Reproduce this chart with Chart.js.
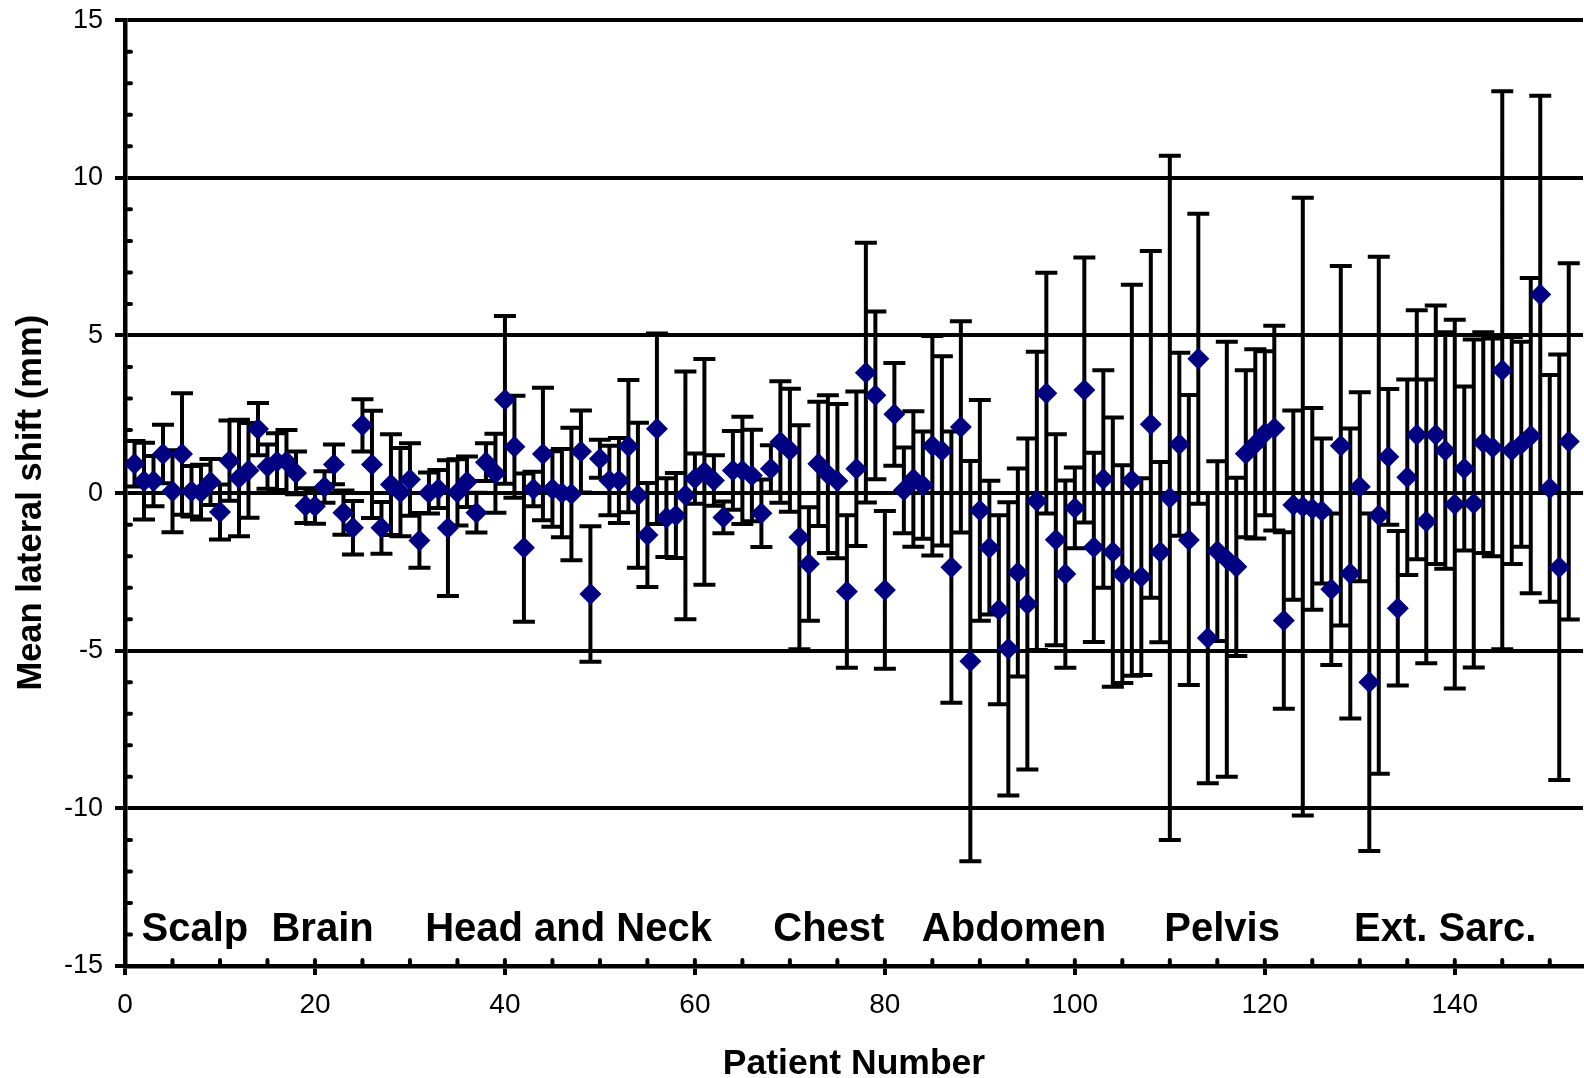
<!DOCTYPE html>
<html><head><meta charset="utf-8">
<script src="https://cdn.jsdelivr.net/npm/chart.js@4.4.1/dist/chart.umd.min.js"></script>
<style>html,body{margin:0;padding:0;background:#fff;overflow:hidden;width:1584px;height:1078px;}canvas{display:block;margin-top:-8px;}</style>
</head><body>
<canvas id="c" width="1594" height="1086"></canvas>
<script>
const patientNumbers = [
  1,2,3,4,5,6,7,8,9,10,11,12,13,14,15,16,17,18,19,20,
  21,22,23,24,25,26,27,28,29,30,31,32,33,34,35,36,37,38,39,40,
  41,42,43,44,45,46,47,48,49,50,51,52,53,54,55,56,57,58,59,60,
  61,62,63,64,65,66,67,68,69,70,71,72,73,74,75,76,77,78,79,80,
  81,82,83,84,85,86,87,88,89,90,91,92,93,94,95,96,97,98,99,100,
  101,102,103,104,105,106,107,108,109,110,111,112,113,114,115,116,117,118,119,120,
  121,122,123,124,125,126,127,128,129,130,131,132,133,134,135,136,137,138,139,140,
  141,142,143,144,145,146,147,148,149,150,151,152];
const meanShift = [
  0.93,0.38,0.38,1.24,0.06,1.24,0.06,0.03,0.35,-0.6,1.03,0.48,0.72,2.03,0.84,1.0,1.0,0.64,-0.4,-0.42,
  0.19,0.91,-0.62,-1.1,2.15,0.91,-1.1,0.27,0.03,0.43,-1.5,0.0,0.13,-1.11,0.02,0.36,-0.62,0.98,0.63,2.96,
  1.47,-1.73,0.13,1.24,0.13,0.0,-0.03,1.32,-3.2,1.09,0.4,0.4,1.49,-0.07,-1.33,2.04,-0.78,-0.71,-0.07,0.46,
  0.67,0.4,-0.77,0.72,0.72,0.56,-0.64,0.77,1.62,1.36,-1.4,-2.25,0.93,0.6,0.38,-3.12,0.77,3.82,3.1,-3.07,
  2.5,0.09,0.45,0.25,1.5,1.34,-2.35,2.1,-5.33,-0.55,-1.73,-3.7,-4.94,-2.52,-3.52,-0.25,3.17,-1.48,-2.57,-0.47,
  3.27,-1.72,0.45,-1.87,-2.57,0.41,-2.65,2.18,-1.87,-0.15,1.55,-1.49,4.26,-4.6,-1.84,-2.1,-2.34,1.25,1.56,1.9,
  2.06,-4.04,-0.38,-0.43,-0.5,-0.57,-3.05,1.5,-2.55,0.2,-6.0,-0.7,1.15,-3.65,0.5,1.85,-0.9,1.85,1.35,-0.35,
  0.78,-0.33,1.6,1.45,3.9,1.35,1.55,1.82,6.3,0.15,-2.35,1.64];
const shiftSD = [
  0.72,1.22,0.8,0.93,1.3,1.93,0.8,0.87,0.73,0.87,1.27,1.85,1.5,0.83,0.7,0.9,1.0,0.68,0.55,0.55,
  0.5,0.63,0.7,0.85,0.83,1.7,0.82,1.6,1.4,1.15,0.87,0.65,0.6,2.15,1.05,0.8,0.63,0.6,1.25,2.66,
  1.62,2.35,0.55,2.1,1.2,1.4,2.1,1.3,2.15,0.6,1.1,1.35,2.1,2.3,1.65,3.02,1.25,1.35,3.93,0.8,
  3.58,0.8,0.5,1.25,1.7,1.45,1.07,0.75,1.93,1.95,3.55,1.8,1.97,2.5,2.45,2.42,2.45,4.12,2.66,2.5,
  1.63,1.36,2.15,1.7,3.48,3.0,4.3,3.35,6.35,3.5,2.12,3.0,4.65,3.3,5.25,4.73,3.82,3.35,2.97,1.28,
  4.2,3.0,3.45,4.27,3.45,6.2,3.12,5.5,2.86,10.85,2.9,4.6,4.6,4.6,2.85,6.9,2.83,2.65,3.0,2.6,
  3.25,2.8,3.0,9.8,3.2,2.3,2.4,5.7,4.6,3.0,5.35,8.2,2.15,2.45,3.1,3.95,4.5,4.1,3.75,5.85,
  2.6,5.2,3.5,3.45,8.85,3.6,3.25,5.0,6.3,3.6,6.75,5.65];
const xTickValues = [0,20,40,60,80,100,120,140];
const yTickValues = [-15,-10,-5,0,5,10,15];
const xMinorTickValues = [5,10,15,25,30,35,45,50,55,65,70,75,85,90,95,105,110,115,125,130,135,145,150];
const yMinorTickValues = [-14,-13,-12,-11,-9,-8,-7,-6,-4,-3,-2,-1,1,2,3,4,6,7,8,9,11,12,13,14];
const regionLabels = ['Scalp','Brain','Head and Neck','Chest','Abdomen','Pelvis','Ext. Sarc.'];
const regionCenters = [7.35,20.8,46.7,74.1,93.6,115.5,139.0];
const regionLabelY = -14.2;

const FONT = "'Liberation Sans', Arial, Helvetica, sans-serif";

const errorBarPlugin = {
  id: 'errorBars',
  beforeDatasetsDraw(chart) {
    const {ctx, scales: {x, y}, chartArea} = chart;
    ctx.save();
    ctx.strokeStyle = '#000';
    ctx.lineWidth = 4;
    ctx.lineCap = 'round';
    ctx.beginPath();
    yMinorTickValues.forEach(v => {
      const py = y.getPixelForValue(v);
      ctx.moveTo(chartArea.left, py); ctx.lineTo(chartArea.left + 6, py);
    });
    xMinorTickValues.forEach(v => {
      const px = x.getPixelForValue(v);
      ctx.moveTo(px, chartArea.bottom); ctx.lineTo(px, chartArea.bottom - 6);
    });
    xTickValues.forEach(v => {
      const px = x.getPixelForValue(v);
      ctx.moveTo(px, chartArea.bottom); ctx.lineTo(px, chartArea.bottom - 6);
    });
    ctx.stroke();
    ctx.lineCap = 'butt';
    ctx.lineWidth = 4;
    ctx.beginPath();
    for (let i = 0; i < patientNumbers.length; i++) {
      const px = x.getPixelForValue(patientNumbers[i]);
      const top = y.getPixelForValue(meanShift[i] + shiftSD[i]);
      const bot = y.getPixelForValue(meanShift[i] - shiftSD[i]);
      ctx.moveTo(px, top); ctx.lineTo(px, bot);
      ctx.moveTo(px - 11, top); ctx.lineTo(px + 11, top);
      ctx.moveTo(px - 11, bot); ctx.lineTo(px + 11, bot);
    }
    ctx.stroke();
    ctx.restore();
  },
  afterDatasetsDraw(chart) {
    const {ctx, scales: {x, y}} = chart;
    ctx.save();
    ctx.fillStyle = '#000';
    ctx.font = 'bold 40px ' + FONT;
    ctx.textAlign = 'center';
    ctx.textBaseline = 'alphabetic';
    regionLabels.forEach((t, i) => {
      ctx.fillText(t, x.getPixelForValue(regionCenters[i]), y.getPixelForValue(regionLabelY));
    });
    ctx.restore();
  }
};

new Chart(document.getElementById('c'), {
  type: 'scatter',
  data: {
    datasets: [{
      data: patientNumbers.map((p, i) => ({x: p, y: meanShift[i]})),
      pointStyle: 'rectRot',
      pointRadius: 11,
      pointHoverRadius: 11,
      backgroundColor: '#000080',
      borderColor: '#000080',
      borderWidth: 0
    }]
  },
  options: {
    responsive: false,
    animation: false,
    events: [],
    layout: {padding: {top: 10, left: 0, right: 0, bottom: 0}},
    plugins: {legend: {display: false}, tooltip: {enabled: false}},
    scales: {
      x: {
        type: 'linear', min: 0, max: 153.5,
        afterBuildTicks(scale) { scale.ticks = xTickValues.map(v => ({value: v})); },
        afterFit(scale) { scale.height = 112; },
        ticks: {color: '#000', font: {family: FONT, size: 28}, padding: 13, autoSkip: false, maxRotation: 0, includeBounds: false},
        grid: {drawOnChartArea: false, drawTicks: true, tickLength: 9, color: '#000', lineWidth: 4},
        border: {display: true, color: '#000', width: 4.5},
        title: {display: true, text: 'Patient Number', color: '#000', font: {family: FONT, size: 35.5, weight: 'bold', lineHeight: 0.8}, padding: {top: 0, bottom: 0}}
      },
      y: {
        type: 'linear', min: -15, max: 15,
        afterBuildTicks(scale) { scale.ticks = yTickValues.map(v => ({value: v})); },
        afterFit(scale) { scale.width = 125; },
        ticks: {color: '#000', font: {family: FONT, size: 27}, padding: 12},
        grid: {drawOnChartArea: true, drawTicks: true, tickLength: 10, color: '#000', lineWidth: 4},
        border: {display: true, color: '#000', width: 4.5},
        title: {display: true, text: 'Mean lateral shift (mm)  ', color: '#000', font: {family: FONT, size: 34.5, weight: 'bold', lineHeight: 1.2}, padding: {top: 11, bottom: 0}}
      }
    }
  },
  plugins: [errorBarPlugin]
});
</script>
</body></html>
